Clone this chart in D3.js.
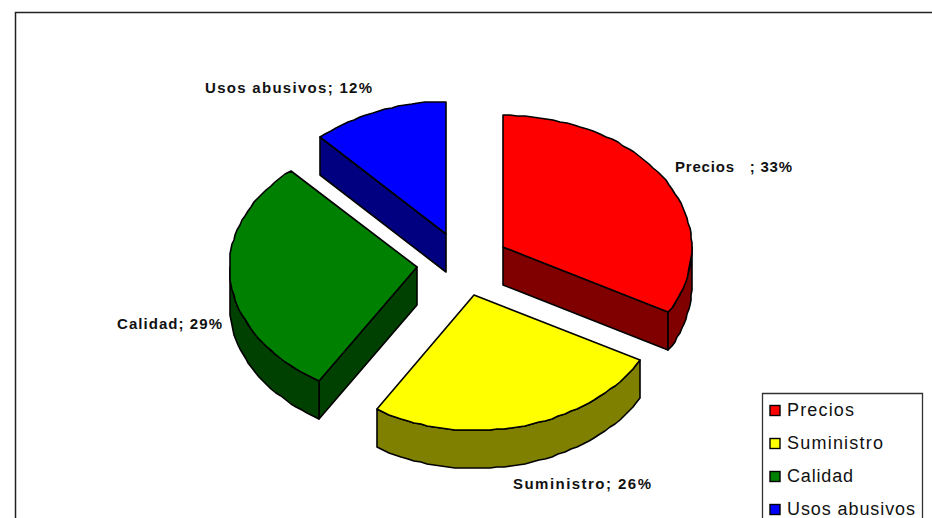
<!DOCTYPE html>
<html><head><meta charset="utf-8">
<script src="https://d3js.org/d3.v7.min.js"></script>
<style>html,body{margin:0;padding:0;background:#fff;overflow:hidden}svg{display:block}text{font-family:"Liberation Sans",Arial,sans-serif;fill:#111}</style>
</head><body><div id="c"></div>
<script>
const categories = ["Precios","Suministro","Calidad","Usos abusivos"];
const values = [33,26,29,12];
const topColors = ["#ff0000","#ffff00","#008000","#0000ff"];
const sideColors = ["#800000","#808000","#004000","#000080"];
const labelTexts = ["Precios   ; 33%","Suministro; 26%","Calidad; 29%","Usos abusivos; 12%"];

const W=932,H=518,cx=462.8,cy=263.9,ryB=132,ryF=135,depth=38,explode=46.5,tilt=0.7;
const svg=d3.select("#c").append("svg").attr("width",W).attr("height",H);
svg.append("rect").attr("width",W).attr("height",H).attr("fill","#fff");
svg.append("path").attr("d",`M15.5,518V12.5H932`).attr("fill","none").attr("stroke","#222").attr("stroke-width",1.5);

const arcs=d3.pie().sort(null).value(d=>d)(values);
const xS=d3.scaleLinear().domain([-1,-0.54,0,1]).range([-187,-98,0,189]);
const yS=d3.scaleLinear().domain([-1,0,1]).range([ryF,0,-ryB]);
const slices=arcs.map((a,i)=>{const mid=(a.startAngle+a.endAngle)/2;
  return {...a,i,ax:cx+explode*Math.sin(mid),ay:cy-explode*tilt*Math.cos(mid)};});
const pt=(s,t,dy=0)=>[Math.round(s.ax+xS(Math.sin(t))),Math.round(s.ay+yS(Math.cos(t))+dy)];
const arcPts=(s,t0,t1,dy=0)=>{const step=2.2*Math.PI/180,n=Math.max(1,Math.ceil((t1-t0)/step));
  return d3.range(n+1).map(k=>pt(s,t0+(t1-t0)*k/n,dy));};
const line=d3.line();
const drawOrder=[3,2,0,1];
function poly(g,pts,fill){g.append("path").attr("d",line(pts)+"Z").attr("fill",fill)
  .attr("stroke","#000").attr("stroke-width",1.6).attr("stroke-linejoin","round");}
const g=svg.append("g");
drawOrder.forEach(i=>{const s=slices[i],side=sideColors[i],apex=[s.ax,s.ay].map(Math.round),apexD=[apex[0],apex[1]+depth];
  if(Math.sin(s.startAngle)<-1e-6){const e=pt(s,s.startAngle);poly(g,[apex,e,[e[0],e[1]+depth],apexD],side);}
  if(Math.sin(s.endAngle)>1e-6){const e=pt(s,s.endAngle);poly(g,[apex,e,[e[0],e[1]+depth],apexD],side);}
  const t0=Math.max(s.startAngle,Math.PI/2),t1=Math.min(s.endAngle,Math.PI*1.5);
  if(t1>t0){poly(g,[...arcPts(s,t0,t1),...arcPts(s,t0,t1,depth).reverse()],side);}
  poly(g,[apex,...arcPts(s,s.startAngle,s.endAngle)],topColors[i]);
});

const labelX=[675,513,117,205],labelY=[172,489,329,93],labelW=[117,138,105,167];
svg.append("g").selectAll("text").data(labelTexts).join("text")
  .attr("x",(d,i)=>labelX[i]).attr("y",(d,i)=>labelY[i]).attr("xml:space","preserve")
  .attr("textLength",(d,i)=>labelW[i]).attr("lengthAdjust","spacing")
  .attr("font-size",15).attr("font-weight",700).text(d=>d);

const lg=svg.append("g");
lg.append("path").attr("d","M762.5,518V393.5H922.5V518").attr("fill","#fff").attr("stroke","#333").attr("stroke-width",1.3);
const rowY=d3.scalePoint().domain(categories).range([410,509]);
const legW=[67,96,66,128];
categories.forEach((c,i)=>{const y=rowY(c);
  lg.append("rect").attr("x",770).attr("y",y-4.5).attr("width",10).attr("height",10).attr("fill",topColors[i]).attr("stroke","#000").attr("stroke-width",1.4);
  lg.append("text").attr("x",787).attr("y",y+6).attr("font-size",18).attr("textLength",legW[i]).attr("lengthAdjust","spacing").text(c);
});
</script></body></html>
